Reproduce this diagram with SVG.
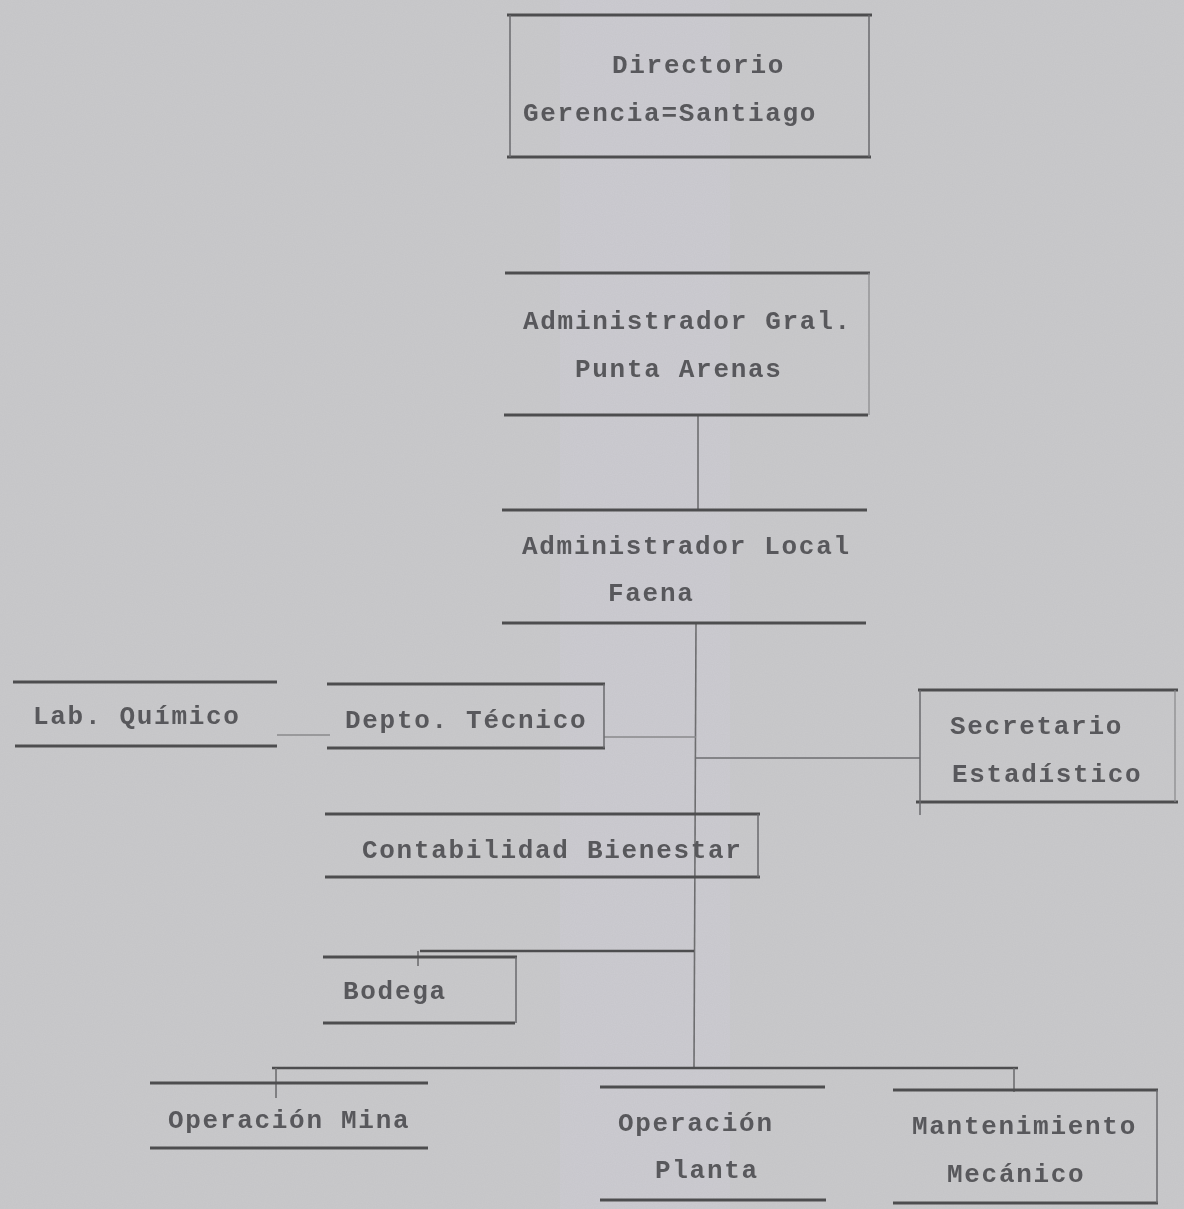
<svg xmlns="http://www.w3.org/2000/svg" width="1184" height="1209" viewBox="0 0 1184 1209">
<defs>
<filter id="paper" x="0" y="0" width="100%" height="100%">
<feTurbulence type="fractalNoise" baseFrequency="0.9" numOctaves="2" seed="7" result="n"/>
<feColorMatrix type="matrix" values="0 0 0 0 0.5  0 0 0 0 0.5  0 0 0 0 0.52  0 0 0 0.35 0" in="n"/>
</filter>
<filter id="soft"><feGaussianBlur stdDeviation="0.6"/></filter>
</defs>
<style>
.box{stroke:#4e4e50;stroke-width:3;fill:none;stroke-linecap:butt}
.edge{stroke:#6a6a6c;stroke-width:1.5;fill:none}
.faint{stroke:#88888a;stroke-width:1.2;fill:none}
.con{stroke:#6e6e70;stroke-width:1.6;fill:none}
.conf{stroke:#8a8a8c;stroke-width:1.3;fill:none}
text{font-family:"Liberation Mono","DejaVu Sans Mono",monospace;font-weight:bold;font-size:26px;letter-spacing:1.7px;fill:#58585b}
</style>
<rect width="1184" height="1209" fill="#c9c9cb"/>
<rect x="560" y="0" width="170" height="1209" fill="#cfcdd6" opacity="0.6"/>
<rect width="1184" height="1209" filter="url(#paper)"/>
<g id="connectors" filter="url(#soft)">
<line class="con" x1="698" y1="415" x2="698" y2="510"/>
<line class="con" x1="696" y1="623" x2="694" y2="1068"/>
<line class="conf" x1="277" y1="735" x2="330" y2="735"/>
<line class="conf" x1="604" y1="737" x2="696" y2="737"/>
<line class="con" x1="696" y1="758" x2="920" y2="758"/>
<line class="box" x1="420" y1="951" x2="694" y2="951" style="stroke-width:2.5"/>
<line class="con" x1="418" y1="951" x2="418" y2="966"/>
<line class="box" x1="272" y1="1068" x2="1018" y2="1068" style="stroke-width:2.5"/>
<line class="con" x1="276" y1="1068" x2="276" y2="1098"/>
<line class="con" x1="1014" y1="1068" x2="1014" y2="1092"/>
</g>
<g id="n-directorio" filter="url(#soft)">
<line class="box" x1="507" y1="15" x2="872" y2="15"/>
<line class="box" x1="507" y1="157" x2="871" y2="157"/>
<line class="edge" x1="510" y1="15" x2="510" y2="157"/>
<line class="edge" x1="869" y1="15" x2="869" y2="157"/>
<text x="612" y="73">Directorio</text>
<text x="523" y="121">Gerencia=Santiago</text>
</g>
<g id="n-admin-gral" filter="url(#soft)">
<line class="box" x1="505" y1="273" x2="870" y2="273"/>
<line class="box" x1="504" y1="415" x2="868" y2="415"/>
<line class="faint" x1="869" y1="273" x2="869" y2="415"/>
<text x="523" y="329">Administrador Gral.</text>
<text x="575" y="377">Punta Arenas</text>
</g>
<g id="n-admin-local" filter="url(#soft)">
<line class="box" x1="502" y1="510" x2="867" y2="510"/>
<line class="box" x1="502" y1="623" x2="866" y2="623"/>
<text x="522" y="554">Administrador Local</text>
<text x="608" y="601">Faena</text>
</g>
<g id="n-lab" filter="url(#soft)">
<line class="box" x1="13" y1="682" x2="277" y2="682"/>
<line class="box" x1="15" y1="746" x2="277" y2="746"/>
<text x="33" y="724">Lab. Químico</text>
</g>
<g id="n-depto" filter="url(#soft)">
<line class="box" x1="327" y1="684" x2="605" y2="684"/>
<line class="box" x1="327" y1="748" x2="605" y2="748"/>
<line class="edge" x1="604" y1="684" x2="604" y2="748"/>
<text x="345" y="728">Depto. Técnico</text>
</g>
<g id="n-secretario" filter="url(#soft)">
<line class="box" x1="918" y1="690" x2="1178" y2="690"/>
<line class="box" x1="916" y1="802" x2="1178" y2="802"/>
<line class="edge" x1="920" y1="690" x2="920" y2="815"/>
<line class="faint" x1="1175" y1="690" x2="1175" y2="802"/>
<text x="950" y="734">Secretario</text>
<text x="952" y="782">Estadístico</text>
</g>
<g id="n-contabilidad" filter="url(#soft)">
<line class="box" x1="325" y1="814" x2="760" y2="814"/>
<line class="box" x1="325" y1="877" x2="760" y2="877"/>
<line class="edge" x1="758" y1="814" x2="758" y2="877"/>
<text x="362" y="858">Contabilidad Bienestar</text>
</g>
<g id="n-bodega" filter="url(#soft)">
<line class="box" x1="323" y1="957" x2="517" y2="957"/>
<line class="box" x1="323" y1="1023" x2="515" y2="1023"/>
<line class="edge" x1="516" y1="957" x2="516" y2="1023"/>
<text x="343" y="999">Bodega</text>
</g>
<g id="n-mina" filter="url(#soft)">
<line class="box" x1="150" y1="1083" x2="428" y2="1083"/>
<line class="box" x1="150" y1="1148" x2="428" y2="1148"/>
<text x="168" y="1128">Operación Mina</text>
</g>
<g id="n-planta" filter="url(#soft)">
<line class="box" x1="600" y1="1087" x2="825" y2="1087"/>
<line class="box" x1="600" y1="1200" x2="826" y2="1200"/>
<text x="618" y="1131">Operación</text>
<text x="655" y="1178">Planta</text>
</g>
<g id="n-mantenimiento" filter="url(#soft)">
<line class="box" x1="893" y1="1090" x2="1158" y2="1090"/>
<line class="box" x1="893" y1="1203" x2="1158" y2="1203"/>
<line class="edge" x1="1157" y1="1090" x2="1157" y2="1203"/>
<text x="912" y="1134">Mantenimiento</text>
<text x="947" y="1182">Mecánico</text>
</g>
</svg>
